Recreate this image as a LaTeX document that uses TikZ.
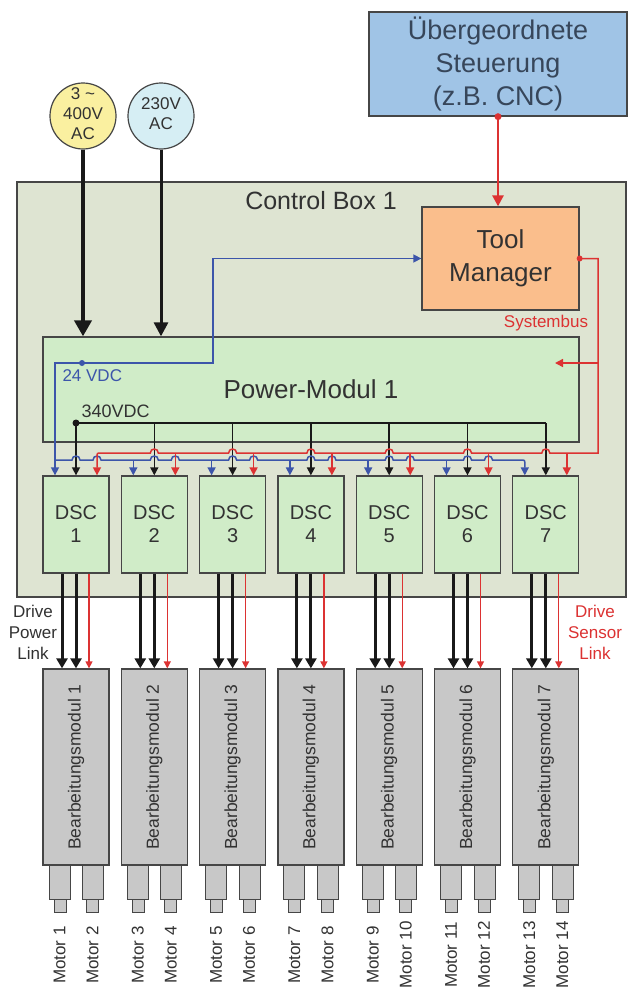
\documentclass[tikz,border=0pt]{standalone}
\usepackage{fontspec}
\setmainfont{Liberation Sans}
\usetikzlibrary{arrows.meta}
\definecolor{edge}{RGB}{70,70,70}
\definecolor{txt}{RGB}{50,50,50}
\definecolor{cnctxt}{RGB}{55,70,90}
\definecolor{cncfill}{RGB}{160,196,230}
\definecolor{cboxfill}{RGB}{222,228,210}
\definecolor{pmfill}{RGB}{208,236,200}
\definecolor{tmfill}{RGB}{250,190,140}
\definecolor{gry}{RGB}{200,200,200}
\definecolor{yel}{RGB}{250,240,160}
\definecolor{lblue}{RGB}{214,238,244}
\definecolor{redc}{RGB}{220,50,50}
\definecolor{bluec}{RGB}{60,85,170}
\definecolor{blk}{RGB}{25,25,25}
\begin{document}
\begin{tikzpicture}[x=1pt,y=-1pt,
  box/.style={draw=edge, line width=1.3pt, inner sep=0pt, align=center, text=txt},
  motorbox/.style={draw=edge, line width=0.9pt, fill=gry, inner sep=0pt},
  bluel/.style={draw=bluec, line width=1.5pt},
  redl/.style={draw=redc, line width=1.5pt},
  blkl/.style={draw=blk, line width=1.5pt},
  smalltip/.style={-{Triangle[width=8pt,length=8pt]}}
]
\useasboundingbox (0,0) rectangle (628,990);
\fill[white] (0,0) rectangle (628,990);

% containers
\node[box, fill=cboxfill, minimum width=609pt, minimum height=415pt] (cbox) at (321.5,389.5) {};
\node[text=txt, font=\fontsize{25}{30}\selectfont] (cboxlabel) at (321,201) {Control Box 1};
\node[box, fill=cncfill, text=cnctxt, minimum width=258pt, minimum height=104pt, font=\fontsize{27}{33}\selectfont] (cnc) at (498,64) {Übergeordnete\\Steuerung\\(z.B. CNC)};
\node[box, fill=tmfill, minimum width=157pt, minimum height=103pt, font=\fontsize{26}{33}\selectfont] (tm) at (500.5,258.5) {Tool\\Manager};
\node[box, fill=pmfill, minimum width=536pt, minimum height=105pt, font=\fontsize{26}{30}\selectfont] (pm) at (311,389.5) {Power-Modul 1};

% supply circles
\node[circle, draw=edge, line width=1.2pt, fill=yel, minimum size=66pt, inner sep=0pt] (c400) at (83,116) {};
\node[align=center, text=txt, font=\fontsize{17}{20}\selectfont] (t400) at (83,114) {3 \textasciitilde\\400V\\AC};
\node[circle, draw=edge, line width=1.2pt, fill=lblue, minimum size=66pt, inner sep=0pt] (c230) at (161,116) {};
\node[align=center, text=txt, font=\fontsize{17}{20}\selectfont] (t230) at (161,114) {230V\\AC};

% DSCs and modules
\foreach \i in {1,...,7} {
  \pgfmathsetmacro\cx{76+78.3*(\i-1)}
  \node[box, fill=pmfill, minimum width=66pt, minimum height=97pt, font=\fontsize{20}{23}\selectfont] (dsc\i) at (\cx,524.5) {DSC\\\i};
  \node[box, fill=gry, minimum width=66pt, minimum height=196pt] (bm\i) at (\cx,767) {};
  \node[rotate=90, text=txt, font=\fontsize{17.5}{20}\selectfont] (bmt\i) at (bm\i) {Bearbeitungsmodul \i};
}

% motors
\foreach \i in {1,...,7} {
  \pgfmathsetmacro\L{43+78.3*(\i-1)}
  \pgfmathtruncatemacro\ma{2*\i-1}
  \pgfmathtruncatemacro\mb{2*\i}
  \node[motorbox, minimum width=21pt, minimum height=34pt] (ma\i) at (\L+16.5,882) {};
  \node[motorbox, minimum width=12pt, minimum height=13pt] (sa\i) at (\L+17,905.5) {};
  \node[motorbox, minimum width=21pt, minimum height=34pt] (mb\i) at (\L+50,882) {};
  \node[motorbox, minimum width=12pt, minimum height=13pt] (sb\i) at (\L+49.5,905.5) {};
  \node[rotate=90, text=txt, font=\fontsize{17}{20}\selectfont] (mla\i) at (\L+16.5,955) {Motor \ma};
  \node[rotate=90, text=txt, font=\fontsize{17}{20}\selectfont] (mlb\i) at (\L+49.5,955) {Motor \mb};
}

% mains feeds
\draw[draw=blk, line width=4.5pt, -{Triangle[width=17pt,length=16pt]}] (c400.south) -- (c400.south |- pm.north);
\draw[draw=blk, line width=3pt, -{Triangle[width=14pt,length=14pt]}] (c230.south) -- (c230.south |- pm.north);

% CNC link
\draw[draw=redc, line width=2.5pt, -{Triangle[width=11pt,length=11pt]}] (cnc.south) -- (cnc.south |- tm.north);
\fill[redc] (cnc.south) circle[radius=3.5];

% 24 VDC
\coordinate (v24) at (82,363);
\coordinate (bl1) at (213,363);
\draw[bluel, {Triangle[width=8pt,length=8pt]}-{Triangle[width=8pt,length=8pt]}] ([xshift=-21pt]dsc1.north) -- ([xshift=-21pt]dsc1.north |- v24) -- (bl1) -- (bl1 |- tm.west) -- (tm.west);
\fill[bluec] (v24) circle[radius=3];
\node[anchor=west, text=bluec, font=\fontsize{17}{20}\selectfont] (l24) at (59,376) {24 VDC};

% 340 VDC
\coordinate (v340) at (76,423);
\draw[blkl] (v340) -- (v340 -| dsc7.north);
\foreach \i in {1,...,7} {
  \draw[blkl, smalltip] (v340 -| dsc\i.north) -- (dsc\i.north);
}
\fill[blk] (v340) circle[radius=3.5];
\node[anchor=west, text=txt, font=\fontsize{18}{20}\selectfont] (l340) at (78,411) {340VDC};

% blue bus
\draw[bluel, smalltip] (55,460) \foreach \x in {76,97,154.3,175.3,232.6,253.6,310.9,331.9,389.2,410.2,467.5,488.5} { -- (\x-4,460) .. controls +(0,-5.3) and +(0,-5.3) .. (\x+4,460) } -- (520.8,460) .. controls (524.8,460) .. (524.8,464) -- ([xshift=-21pt]dsc7.north);
\foreach \i in {2,...,6} {
  \pgfmathsetmacro\cx{76+78.3*(\i-1)}
  \draw[bluel, smalltip] (\cx-21,460) -- ([xshift=-21pt]dsc\i.north);
}

% red system bus
\coordinate (sbx) at (598,453);
\coordinate (sbb) at (598,363);
\coordinate (pmin) at (555,363);
\draw[redl, smalltip] (tm.east) -- (tm.east -| sbx) -- (sbx) \foreach \x in {545.8,467.5,389.2,310.9,232.6,154.3} { -- (\x+4,453) .. controls +(0,-5.3) and +(0,-5.3) .. (\x-4,453) } -- (101,453) .. controls (97,453) .. (97,457) -- ([xshift=21pt]dsc1.north);
\foreach \i in {2,...,7} {
  \pgfmathsetmacro\cx{76+78.3*(\i-1)}
  \draw[redl, smalltip] (\cx+21,453) -- ([xshift=21pt]dsc\i.north);
}
\draw[redl, smalltip] (sbb) -- (pmin);
\fill[redc] (tm.east) circle[radius=3];
\node[text=redc, font=\fontsize{17}{20}\selectfont] (lsb) at (546,323) {Systembus};

% drive links
\foreach \i in {1,...,7} {
  \draw[draw=blk, line width=3pt, -{Triangle[width=11pt,length=10pt]}] ([xshift=-14pt]dsc\i.south) -- ([xshift=-14pt]bm\i.north);
  \draw[draw=blk, line width=3pt, -{Triangle[width=11pt,length=10pt]}] (dsc\i.south) -- (bm\i.north);
  \draw[draw=redc, line width=1.3pt, -{Triangle[width=7pt,length=7pt]}] ([xshift=13pt]dsc\i.south) -- ([xshift=13pt]bm\i.north);
}
\node[align=center, text=txt, font=\fontsize{17}{21}\selectfont] (ldp) at (33,632) {Drive\\Power\\Link};
\node[align=center, text=redc, font=\fontsize{17}{21}\selectfont] (lds) at (595,632) {Drive\\Sensor\\Link};
\end{tikzpicture}
\end{document}
